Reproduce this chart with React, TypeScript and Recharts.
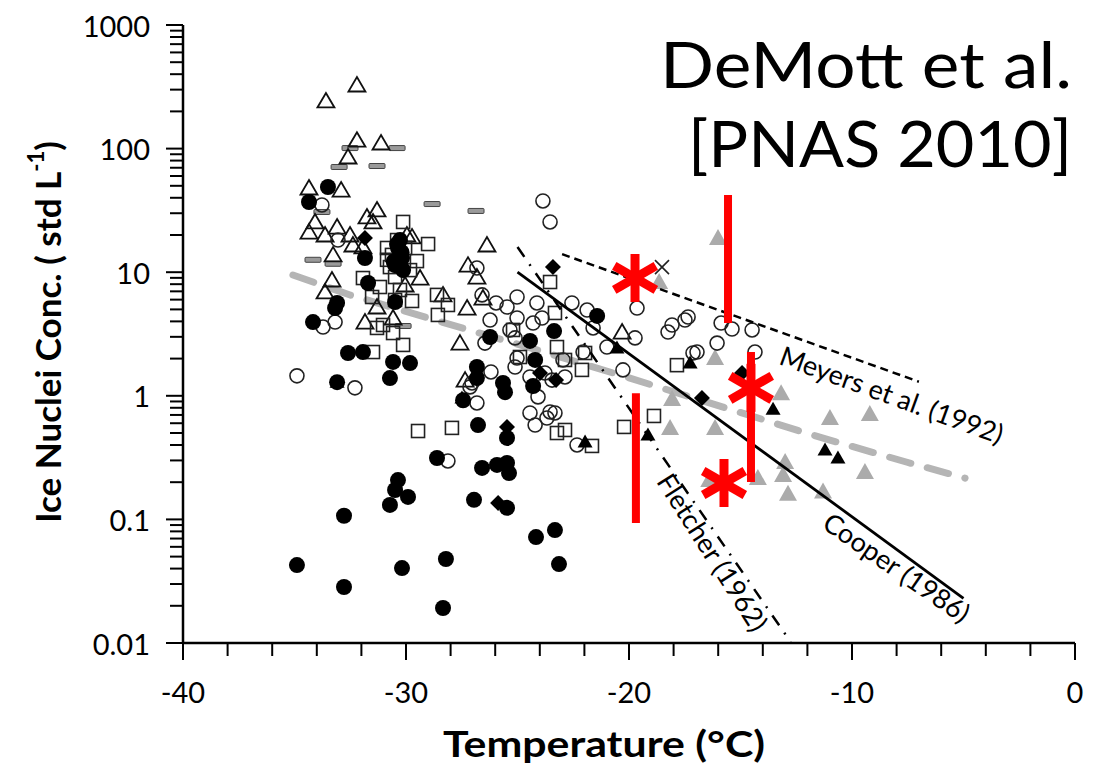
import React from "react";
import { ScatterChart, Scatter, XAxis, YAxis } from "recharts";

type P = [number, number];

// ---- data (temperature °C, IN per std L) ----
const openTriangles: P[] = [
  [-32.2, 327], [-33.59, 243], [-32.2, 117], [-31.12, 111], [-32.6, 85.5], [-34.35, 48], [-32.91, 46.2],
  [-34.08, 25.5], [-34.35, 21.1], [-33.63, 20], [-33.09, 23.2], [-32.51, 20], [-33.27, 13.8], [-33.32, 8.65],
  [-33.63, 6.92], [-32.38, 16.6], [-31.75, 28], [-31.3, 31.9], [-31.48, 25.5], [-31.93, 16], [-29.96, 20],
  [-29.73, 19.3], [-29.37, 8.97], [-30.04, 7.88], [-31.3, 5.23], [-31.84, 3.95], [-30.58, 4.26], [-28.34, 6.55],
  [-27.26, 5.13], [-27.58, 2.67], [-27.22, 11.4], [-26.82, 9.14], [-26.37, 16.6], [-26.55, 6.18], [-27.35, 1.34],
  [-20.31, 3.28],
];

const grayDashes: P[] = [
  [-32.51, 101], [-30.4, 101], [-33, 71], [-31.3, 72.3], [-28.83, 35.6], [-26.86, 31.3], [-34.17, 12.6],
  [-33.77, 30.7], [-33.27, 11.7], [-30.13, 3.67],
];

const openSquares: P[] = [
  [-30.13, 25.5], [-29.01, 16.9], [-29.51, 12.3], [-30.85, 15.7], [-30.85, 12.6], [-30.4, 18.2], [-30.72, 11.0],
  [-30.49, 9.14], [-31.93, 8.97], [-31.52, 6.3], [-31.17, 7.59], [-30.27, 7.18], [-29.73, 5.85], [-30.49, 5.96],
  [-28.61, 6.55], [-28.12, 5.43], [-28.57, 4.51], [-31.3, 3.54], [-31.03, 3.74], [-30.58, 3.22], [-30.13, 2.58],
  [-31.48, 2.26], [-23.54, 8.33], [-23.32, 4.68], [-23.23, 2.48], [-22.87, 1.95], [-24.89, 2.06], [-25.2, 3.41],
  [-22.11, 1.62], [-21.97, 2.22], [-17.85, 1.77], [-29.46, 0.519], [-27.94, 0.55], [-23.23, 0.5], [-22.87, 0.529],
  [-21.66, 0.393], [-20.22, 0.56], [-18.88, 0.687], [-30.04, 15.7], [-30.63, 13.8], [-29.82, 10.4],
];

const filledCircles: P[] = [
  [-33.5, 48.9], [-34.35, 37], [-31.84, 13.0], [-31.7, 8.18], [-33.09, 5.64], [-33.18, 5.13], [-34.17, 3.95],
  [-30.49, 5.74], [-30.36, 15.7], [-30.18, 13.0], [-30.49, 11.4], [-30.13, 10.4], [-30.27, 18.2], [-30.4, 16.9],
  [-30.2, 14.5], [-30.55, 12.2], [-32.6, 2.22], [-31.93, 2.26], [-30.58, 1.88], [-29.82, 1.84], [-30.72, 1.39],
  [-33.09, 1.29], [-26.82, 1.71], [-26.82, 1.39], [-26.23, 2.99], [-27.44, 0.92], [-26.77, 0.58], [-28.61, 0.314],
  [-26.59, 0.261], [-25.92, 0.276], [-25.47, 0.286], [-25.38, 0.237], [-30.36, 0.208], [-30.49, 0.173],
  [-29.91, 0.152], [-30.72, 0.131], [-26.95, 0.144], [-32.78, 0.107], [-34.89, 0.0427], [-32.78, 0.0284],
  [-30.18, 0.0404], [-28.21, 0.0478], [-28.34, 0.0192], [-25.47, 0.124], [-25.47, 0.456], [-24.17, 0.072],
  [-23.32, 0.082], [-23.14, 0.0435], [-25.65, 1.27], [-25.56, 1.07], [-24.3, 1.2], [-24.21, 1.95], [-24.44, 2.78],
  [-23.36, 3.34], [-21.43, 4.43],
];

const openCircles: P[] = [
  [-34.89, 1.45], [-32.29, 1.16], [-33.72, 3.6], [-33.18, 3.95], [-33.77, 35], [-33.05, 18.2], [-26.82, 10.8],
  [-26.59, 6.55], [-26.23, 4.1], [-26.46, 2.67], [-26.19, 1.56], [-27.04, 1.27], [-26.82, 0.875], [-28.12, 0.297],
  [-23.86, 37.7], [-23.54, 25.5], [-25.96, 5.64], [-25.47, 5.23], [-25.02, 6.3], [-24.13, 5.64], [-25.02, 4.26],
  [-23.9, 4.26], [-25.34, 3.41], [-25.11, 2.94], [-24.3, 3.88], [-22.56, 5.64], [-21.88, 4.94], [-21.61, 3.54],
  [-20.99, 2.48], [-20.27, 1.62], [-19.64, 5.13], [-19.73, 2.94], [-22.06, 2.26], [-22.96, 1.95], [-25.02, 2.02],
  [-25.11, 1.71], [-24.44, 1.42], [-23.77, 1.53], [-22.87, 1.42], [-23.45, 1.34], [-24.08, 0.98], [-24.44, 0.726],
  [-23.54, 0.74], [-23.68, 0.661], [-24.21, 0.58], [-27.13, 1.18], [-22.33, 0.4], [-23.32, 0.726], [-18.25, 3.28],
  [-18.07, 3.74], [-17.49, 4.1], [-17.35, 4.34], [-15.87, 3.88], [-15.38, 3.47], [-14.48, 3.41], [-16.05, 2.67],
  [-16.95, 2.26], [-17.13, 2.22], [-14.35, 2.26],
];

const filledDiamonds: P[] = [
  [-31.84, 18.9], [-23.41, 11.0], [-23.99, 1.53], [-23.27, 1.34], [-25.47, 0.56], [-25.87, 0.136], [-16.73, 0.96],
  [-14.93, 1.53],
];

const filledTriangles: P[] = [
  [-21.97, 0.423], [-19.15, 0.482], [-17.26, 1.84], [-13.54, 0.78], [-11.21, 0.365], [-10.63, 0.314],
  [-33.09, 1.29], [-27.49, 0.96], [-20.54, 2.44],
];

const grayTriangles: P[] = [
  [-16.01, 18.9], [-18.65, 8.33], [-16.14, 2.02], [-18.07, 0.94], [-18.16, 0.55], [-16.14, 0.55], [-13.18, 1.05],
  [-10.99, 0.661], [-9.2, 0.713], [-13.0, 0.292], [-13.09, 0.229], [-14.22, 0.216], [-12.87, 0.161], [-11.3, 0.168],
  [-9.42, 0.242], [-16.4, 0.208],
];

const crosses: P[] = [[-18.52, 11.0]];

// parameterisation lines
const cooperLine: P[] = [[-25, 10], [-5, 0.023]];
const meyersLine: P[] = [[-23, 14], [-7, 1.3]];
const fletcherLine: P[] = [[-25, 16], [-12.75, 0.0102]];
const demottLine: P[] = [
  [-35.07, 9.49], [-32.51, 6.54], [-28.39, 3.95], [-24.13, 2.35], [-19.96, 1.39], [-15.78, 0.81], [-11.75, 0.48],
  [-7.53, 0.29], [-4.93, 0.216],
];

// red annotations
const redBars: P[][] = [
  [[-15.56, 42.2], [-15.56, 3.88]],
  [[-19.69, 1.05], [-19.69, 0.0935]],
  [[-14.53, 2.26], [-14.53, 0.201]],
];
const redStars: P[] = [[-19.73, 8.98], [-14.53, 1.16], [-15.74, 0.197]];

const lineLabels = [
  { text: "Meyers et al. (1992)", x: -8.21, y: 1.03, angle: 20 },
  { text: "Cooper (1986)", x: -7.98, y: 0.0412, angle: 34.5 },
  { text: "Fletcher (1962)", x: -16.23, y: 0.0545, angle: 57.5 },
];

const yMajor = [0.01, 0.1, 1, 10, 100, 1000];
const yMinorSteps = [2, 3, 4, 5, 6, 7, 8, 9];
const yTicks = [...yMajor, ...yMajor.slice(0, -1).flatMap((d) => yMinorSteps.map((m) => d * m))];
const xTicks = [-40, -38, -36, -34, -32, -30, -28, -26, -24, -22, -20, -18, -16, -14, -12, -10, -8, -6, -4, -2, 0];
const xLabelled = [-40, -30, -20, -10, 0];

const FONT = "Lato, 'Open Sans', sans-serif";

const pts = (a: P[]) => a.map(([x, y]) => ({ x, y }));

// ---- marker shapes ----
const noShape = () => <g />;
const openTri = (p: any) => (
  <path d={`M${p.cx},${p.cy - 8}L${p.cx + 8.5},${p.cy + 6.5}L${p.cx - 8.5},${p.cy + 6.5}Z`} fill="none" stroke="#111" strokeWidth={1.8} />
);
const filledTri = (p: any) => (
  <path d={`M${p.cx},${p.cy - 7.5}L${p.cx + 7.5},${p.cy + 5.5}L${p.cx - 7.5},${p.cy + 5.5}Z`} fill="#000" />
);
const grayTri = (p: any) => (
  <path d={`M${p.cx},${p.cy - 9}L${p.cx + 9},${p.cy + 7}L${p.cx - 9},${p.cy + 7}Z`} fill="#ababab" />
);
const openCirc = (p: any) => <circle cx={p.cx} cy={p.cy} r={7} fill="none" stroke="#222" strokeWidth={1.6} />;
const filledCirc = (p: any) => <circle cx={p.cx} cy={p.cy} r={8} fill="#000" />;
const openSq = (p: any) => (
  <rect x={p.cx - 6.5} y={p.cy - 6.5} width={13} height={13} fill="none" stroke="#222" strokeWidth={1.6} />
);
const diamond = (p: any) => (
  <path d={`M${p.cx},${p.cy - 8}L${p.cx + 8},${p.cy}L${p.cx},${p.cy + 8}L${p.cx - 8},${p.cy}Z`} fill="#000" />
);
const dash = (p: any) => (
  <rect x={p.cx - 8} y={p.cy - 2.5} width={16} height={5} rx={1} fill="#9a9a9a" stroke="#444" strokeWidth={1} />
);
const cross = (p: any) => (
  <g stroke="#222" strokeWidth={1.6}>
    <line x1={p.cx - 7} y1={p.cy - 7} x2={p.cx + 7} y2={p.cy + 7} />
    <line x1={p.cx - 7} y1={p.cy + 7} x2={p.cx + 7} y2={p.cy - 7} />
  </g>
);
const asterisk = (p: any) => (
  <g stroke="#ff0000" strokeWidth={9}>
    {[90, 30, -30].map((a) => {
      const r = (a * Math.PI) / 180;
      const dx = 24 * Math.cos(r);
      const dy = 24 * Math.sin(r);
      return <line key={a} x1={p.cx - dx} y1={p.cy - dy} x2={p.cx + dx} y2={p.cy + dy} />;
    })}
  </g>
);

const pathLine = (style: React.SVGProps<SVGPathElement>) => (props: any) => {
  const p = props.points ?? [];
  const d = p.map((q: any, i: number) => `${i ? "L" : "M"}${q.x},${q.y}`).join("");
  return <path d={d} fill="none" {...style} />;
};

const textShape = (text: string, angle: number) => (p: any) => (
  <text
    x={p.cx}
    y={p.cy}
    transform={`rotate(${angle} ${p.cx} ${p.cy})`}
    textAnchor="middle"
    dominantBaseline="central"
    fontSize={27}
    fontFamily={FONT}
    fill="#000"
  >
    {text}
  </text>
);

const YTick = (p: any) => {
  const v = p.payload.value;
  const major = yMajor.includes(v);
  return (
    <g>
      <line x1={p.x - (major ? 17 : 13)} x2={p.x} y1={p.y} y2={p.y} stroke="#000" strokeWidth={2} />
      {major && (
        <text x={p.x - 33} y={p.y} textAnchor="end" dominantBaseline="central" fontSize={29} fontFamily={FONT} fill="#000">
          {String(v)}
        </text>
      )}
    </g>
  );
};

const XTick = (p: any) => {
  const v = p.payload.value;
  const major = xLabelled.includes(v);
  return (
    <g>
      <line x1={p.x} x2={p.x} y1={p.y} y2={p.y + (major ? 17 : 13)} stroke="#000" strokeWidth={2} />
      {major && (
        <text x={p.x} y={p.y + 48} textAnchor="middle" dominantBaseline="central" fontSize={29} fontFamily={FONT} fill="#000">
          {String(v)}
        </text>
      )}
    </g>
  );
};

export default function App() {
  return (
    <div style={{ position: "absolute", left: 0, top: 0, width: 1101, height: 763, background: "#fff" }}>
      <ScatterChart width={1101} height={763} margin={{ top: 25, right: 26, bottom: 60, left: 0 }}>
        <XAxis
          type="number"
          dataKey="x"
          domain={[-40, 0]}
          ticks={xTicks}
          interval={0}
          height={60}
          tickSize={0}
          tickMargin={0}
          tickLine={false}
          tick={<XTick />}
          axisLine={{ stroke: "#000", strokeWidth: 2.5 }}
          allowDataOverflow
        />
        <YAxis
          type="number"
          dataKey="y"
          scale="log"
          domain={[0.01, 1000]}
          ticks={yTicks}
          interval={0}
          width={183}
          tickSize={0}
          tickMargin={0}
          tickLine={false}
          tick={<YTick />}
          axisLine={{ stroke: "#000", strokeWidth: 2.5 }}
          allowDataOverflow
        />
        <Scatter
          data={pts(demottLine)}
          shape={noShape}
          line={pathLine({ stroke: "#b5b5b5", strokeWidth: 7, strokeDasharray: "22 17", strokeLinecap: "round" })}
          isAnimationActive={false}
        />
        <Scatter data={pts(grayTriangles)} shape={grayTri} isAnimationActive={false} />
        <Scatter data={pts(grayDashes)} shape={dash} isAnimationActive={false} />
        <Scatter data={pts(openTriangles)} shape={openTri} isAnimationActive={false} />
        <Scatter data={pts(openSquares)} shape={openSq} isAnimationActive={false} />
        <Scatter data={pts(openCircles)} shape={openCirc} isAnimationActive={false} />
        <Scatter data={pts(filledCircles)} shape={filledCirc} isAnimationActive={false} />
        <Scatter data={pts(filledDiamonds)} shape={diamond} isAnimationActive={false} />
        <Scatter data={pts(filledTriangles)} shape={filledTri} isAnimationActive={false} />
        <Scatter data={pts(crosses)} shape={cross} isAnimationActive={false} />
        <Scatter
          data={pts(cooperLine)}
          shape={noShape}
          line={pathLine({ stroke: "#000", strokeWidth: 2.8 })}
          isAnimationActive={false}
        />
        <Scatter
          data={pts(meyersLine)}
          shape={noShape}
          line={pathLine({ stroke: "#000", strokeWidth: 2.5, strokeDasharray: "8 5" })}
          isAnimationActive={false}
        />
        <Scatter
          data={pts(fletcherLine)}
          shape={noShape}
          line={pathLine({ stroke: "#000", strokeWidth: 2.5, strokeDasharray: "12 9 2 9" })}
          isAnimationActive={false}
        />
        {lineLabels.map((l) => (
          <Scatter
            key={l.text}
            data={[{ x: l.x, y: l.y }]}
            shape={textShape(l.text, l.angle)}
            isAnimationActive={false}
          />
        ))}
        {redBars.map((b, i) => (
          <Scatter
            key={`bar-${i}`}
            data={pts(b)}
            shape={noShape}
            line={pathLine({ stroke: "#ff0000", strokeWidth: 8 })}
            isAnimationActive={false}
          />
        ))}
        <Scatter data={pts(redStars)} shape={asterisk} isAnimationActive={false} />
      </ScatterChart>
      <svg width={1101} height={763} style={{ position: "absolute", left: 0, top: 0, pointerEvents: "none" }}>
        <text
          x={1072}
          y={88}
          textAnchor="end"
          fontSize={64}
          textLength={412}
          lengthAdjust="spacingAndGlyphs"
          fontFamily={FONT}
          fill="#000"
        >
          DeMott et al.
        </text>
        <text
          x={1072}
          y={167}
          textAnchor="end"
          fontSize={64}
          textLength={384}
          lengthAdjust="spacingAndGlyphs"
          fontFamily={FONT}
          fill="#000"
        >
          [PNAS 2010]
        </text>
        <text
          x={604}
          y={742}
          textAnchor="middle"
          dominantBaseline="central"
          fontSize={37}
          textLength={322}
          lengthAdjust="spacingAndGlyphs"
          fontWeight="bold"
          fontFamily={FONT}
          fill="#000"
        >
          Temperature (°C)
        </text>
        <text
          transform="translate(47 332) rotate(-90)"
          textAnchor="middle"
          dominantBaseline="central"
          fontSize={35}
          fontWeight="bold"
          fontFamily={FONT}
          fill="#000"
        >
          Ice Nuclei Conc. ( std L
          <tspan dy={-12} fontSize={22}>-1</tspan>
          <tspan dy={12}>)</tspan>
        </text>
      </svg>
    </div>
  );
}
